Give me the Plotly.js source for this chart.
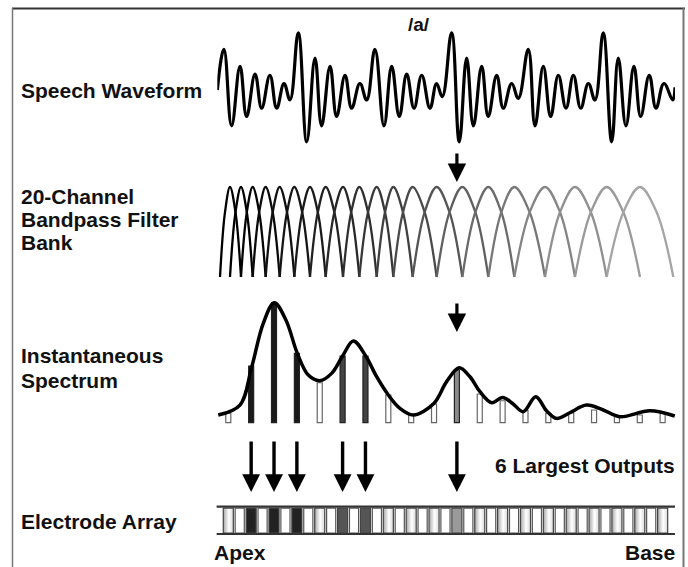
<!DOCTYPE html>
<html><head><meta charset="utf-8">
<script src="https://cdn.plot.ly/plotly-3.0.1.min.js"></script>
<style>html,body{margin:0;padding:0;background:#fff}#chart{width:688px;height:567px}</style>
</head><body><div id="chart"></div>
<script>
// ---- Speech waveform /a/ : extrema (time in formant cycles, amplitude normalised)
const waveT = [0,0.43,0.93,1.48,1.91,2.46,2.89,3.43,3.87,4.35,4.74,5.28,5.83,6.37,6.80,7.35,7.78,8.33,8.76,9.30,9.74,10.28,10.87,11.37,11.87,12.35,12.83,13.33,13.87,14.30,14.67,15.28,15.78,16.26,16.70,17.24,17.67,18.22,18.65,19.20,19.63,20.28,20.72,21.26,21.74,22.24,22.74,23.22,23.70,24.20,24.63,25.17,25.72,26.15,26.65,27.17,27.61,28.17,28.61,29.13,29.70,29.85];
const waveAmp = [-0.05,0.69,-0.70,0.38,-0.53,0.24,-0.38,0.22,-0.38,0.07,-0.23,0.99,-0.99,0.53,-0.70,0.38,-0.53,0.22,-0.38,0.07,-0.23,0.69,-0.70,0.38,-0.53,0.24,-0.38,0.22,-0.38,0.07,-0.17,0.99,-0.99,0.53,-0.70,0.38,-0.53,0.22,-0.38,0.07,-0.20,0.69,-0.70,0.38,-0.53,0.22,-0.38,0.22,-0.38,0.07,-0.23,0.99,-0.99,0.53,-0.70,0.38,-0.53,0.22,-0.38,0.07,-0.23,0.0];

// ---- Bandpass filter bank: lobe centre positions (% of band), first/last entries are the outer feet
const filterPos = [0.72,2.89,5.28,7.82,10.64,13.69,16.88,20.28,23.69,27.46,31.01,34.78,38.40,42.60,47.82,53.40,59.05,64.70,71.37,77.89,84.78,92.02,99.27];
const filterColors = ['#000000','#000000','#050505','#0a0a0a','#111111','#151515','#1a1a1a','#222222','#282828','#303030','#383838','#404040','#4a4a4a','#555555','#606060','#6a6a6a','#777777','#858585','#909090','#9a9a9a','#a5a5a5'];
const crossLevel = 0.72;   // level where neighbouring lobes cross

// ---- Instantaneous spectrum: 20 channel outputs (% of max)
const channels = [1,2,3,4,5,6,7,8,9,10,11,12,13,14,15,16,17,18,19,20];
const channelOutput = [7.8,47.2,100,57.8,33.3,55.6,55.6,23.1,6.4,15.6,43.9,23.9,18.3,10,7.8,8.3,10.6,5,6.4,7.8];
const envX = [0.56,1.51,2.02,2.53,3.01,3.52,4.02,4.50,5.01,5.52,6.00,6.47,7.01,7.49,8.00,8.51,9.09,9.99,10.55,11.10,11.57,12.01,12.52,13.00,13.46,13.90,14.45,14.92,15.36,15.94,16.67,17.40,18.13,19.44,20.53];
const envY = [6.4,14.7,46.1,82.8,100,85.6,57.8,39.7,35,41.1,55.6,68.1,55.6,38.3,23.1,11.9,6.4,16.1,34.2,45.8,38.3,25.8,16.7,21.1,15.6,9.2,21.7,10,3.6,8.3,14.7,10.6,5,10,5.6];

// ---- 6 largest outputs -> stimulated electrodes
const selectedChannels = [2,3,4,6,7,11];
const selectedBarColors = ['#1a1a1a','#1a1a1a','#1a1a1a','#444444','#444444','#8a8a8a'];
const selectedElecColors = ['#222222','#222222','#222222','#555555','#555555','#9a9a9a'];

// ---- texts
const rowLabels = [
  {t:'Speech Waveform', y:90},
  {t:'20-Channel', y:196},{t:'Bandpass Filter', y:219},{t:'Bank', y:242},
  {t:'Instantaneous', y:355},{t:'Spectrum', y:380},
  {t:'Electrode Array', y:521}
];
const soundLabel = '/a/';
const outputsLabel = '6 Largest Outputs';
const endLabels = ['Apex','Base'];

const W = 688, H = 567;
const py = p => 1 - p / H;
const px = p => p / W;
const FONT = 'Liberation Sans, Arial, sans-serif';

const traces = [];
// waveform
traces.push({x: waveT, y: waveAmp, xaxis:'x3', yaxis:'y3', mode:'lines', hoverinfo:'skip',
  line:{shape:'spline', smoothing:1.2, width:3.2, color:'#000'}});
// filter lobes
for (let i = 1; i < filterPos.length - 1; i++) {
  const L = filterPos[i-1], C = filterPos[i], R = filterPos[i+1];
  traces.push({x:[L,(L+C)/2,C,(C+R)/2,R], y:[0,crossLevel,1,crossLevel,0], xaxis:'x2', yaxis:'y2',
    mode:'lines', hoverinfo:'skip', line:{shape:'spline', smoothing:1, width:2.3, color:filterColors[i-1]}});
}
// spectrum bars
const barFill = channels.map(c => { const k = selectedChannels.indexOf(c); return k >= 0 ? selectedBarColors[k] : '#ffffff'; });
const barLine = channels.map(c => selectedChannels.indexOf(c) >= 0 ? '#222222' : '#666666');
traces.push({type:'bar', x: channels, y: channelOutput, width:0.22, xaxis:'x', yaxis:'y', hoverinfo:'skip',
  marker:{color: barFill, line:{color: barLine, width:1.2}}});
// spectrum envelope
traces.push({x: envX, y: envY, xaxis:'x', yaxis:'y', mode:'lines', hoverinfo:'skip',
  line:{shape:'spline', smoothing:1, width:3.5, color:'#000'}});
// electrode array: spacers (outline)
const cb = 0.03, ct = 0.95, ew = 0.44, sw = 0.40;
const spX = [], spY = [];
for (let i = 0; i < channels.length - 1; i++) {
  const c = channels[i] + 0.5;
  spX.push(c-sw/2, c+sw/2, c+sw/2, c-sw/2, c-sw/2, null);
  spY.push(cb, cb, ct, ct, cb, null);
}
traces.push({x: spX, y: spY, xaxis:'x', yaxis:'y4', mode:'lines', hoverinfo:'skip', line:{color:'#555', width:1.2}});
// electrodes
channels.forEach(c => {
  const k = selectedChannels.indexOf(c);
  const t = {x:[c-ew/2,c+ew/2,c+ew/2,c-ew/2,c-ew/2], y:[cb,cb,ct,ct,cb], xaxis:'x', yaxis:'y4',
    mode:'lines', fill:'toself', hoverinfo:'skip', line:{color:'#444', width:1.2}};
  if (k >= 0) t.fillcolor = selectedElecColors[k];
  else t.fillgradient = {type:'horizontal', colorscale:[[0,'#a8a8a8'],[0.55,'#ffffff'],[1,'#d8d8d8']]};
  traces.push(t);
});
// rails
traces.push({x:[0.49,20.54,null,0.49,20.54], y:[0,0,null,1,1], xaxis:'x', yaxis:'y4', mode:'lines', hoverinfo:'skip',
  line:{color:'#333', width:2.2}});

const hidden = {visible:false, fixedrange:true};
const annotations = [];
rowLabels.forEach(r => annotations.push({xref:'paper', yref:'paper', x:px(19), y:py(r.y), xanchor:'left', yanchor:'middle',
  text:'<b>'+r.t+'</b>', showarrow:false, font:{family:FONT, size:21, color:'#111'}}));
annotations.push({xref:'paper', yref:'paper', x:px(419), y:py(24), xanchor:'center', yanchor:'middle',
  text:'<b>'+soundLabel+'</b>', showarrow:false, font:{family:FONT, size:19, color:'#111'}});
annotations.push({xref:'paper', yref:'paper', x:px(677), y:py(465), xanchor:'right', yanchor:'middle',
  text:'<b>'+outputsLabel+'</b>', showarrow:false, font:{family:FONT, size:21, color:'#111'}});
annotations.push({xref:'paper', yref:'paper', x:px(212), y:py(552), xanchor:'left', yanchor:'middle',
  text:'<b>'+endLabels[0]+'</b>', showarrow:false, font:{family:FONT, size:21, color:'#111'}});
annotations.push({xref:'paper', yref:'paper', x:px(677), y:py(552), xanchor:'right', yanchor:'middle',
  text:'<b>'+endLabels[1]+'</b>', showarrow:false, font:{family:FONT, size:21, color:'#111'}});
// flow arrows (at the highlighted formant channel)
const flowCh = selectedChannels[selectedChannels.length-1];
[[182,30],[332,30]].forEach(a => annotations.push({xref:'x', yref:'paper', x:flowCh, y:py(a[0]), ax:0, ay:-a[1],
  text:'', showarrow:true, arrowhead:2, arrowwidth:3.2, arrowsize:1.15, arrowcolor:'#000'}));
// 6 largest output arrows
selectedChannels.forEach(c => annotations.push({xref:'x', yref:'paper', x:c, y:py(492), ax:0, ay:-52,
  text:'', showarrow:true, arrowhead:2, arrowwidth:3.4, arrowsize:1.05, arrowcolor:'#000'}));

const layout = {
  width: W, height: H, margin:{l:0,r:0,t:0,b:0}, paper_bgcolor:'#fff', plot_bgcolor:'rgba(0,0,0,0)', showlegend:false,
  xaxis: Object.assign({domain:[0.31189,0.98308], range:[0.4,20.6], anchor:'y'}, hidden),
  yaxis: Object.assign({domain:[1-428.7/H, 1-290.7/H], range:[-5,110], anchor:'x'}, hidden),
  xaxis2: Object.assign({domain:[216.7/W, 676.7/W], range:[0,100], anchor:'y2'}, hidden),
  yaxis2: Object.assign({domain:[0.50353,0.67813], range:[-0.05,1.05], anchor:'x2'}, hidden),
  xaxis3: Object.assign({domain:[217.33/W, 675/W], range:[0,29.85], anchor:'y3'}, hidden),
  yaxis3: Object.assign({domain:[0.73928,0.95268], range:[-1.1,1.1], anchor:'x3'}, hidden),
  yaxis4: Object.assign({domain:[0.05097,0.11358], range:[-0.15,1.15], anchor:'x'}, hidden),
  annotations: annotations,
  shapes: [
    {type:'line', xref:'paper', yref:'paper', x0:px(12), x1:px(685), y0:py(8.5), y1:py(8.5), line:{color:'#333', width:2}},
    {type:'line', xref:'paper', yref:'paper', x0:px(12.5), x1:px(12.5), y0:py(8), y1:0, line:{color:'#777', width:1.5}},
    {type:'line', xref:'paper', yref:'paper', x0:px(683.5), x1:px(683.5), y0:py(8), y1:0, line:{color:'#777', width:2}}
  ]
};
Plotly.newPlot('chart', traces, layout, {staticPlot:true, displayModeBar:false});
</script></body></html>
